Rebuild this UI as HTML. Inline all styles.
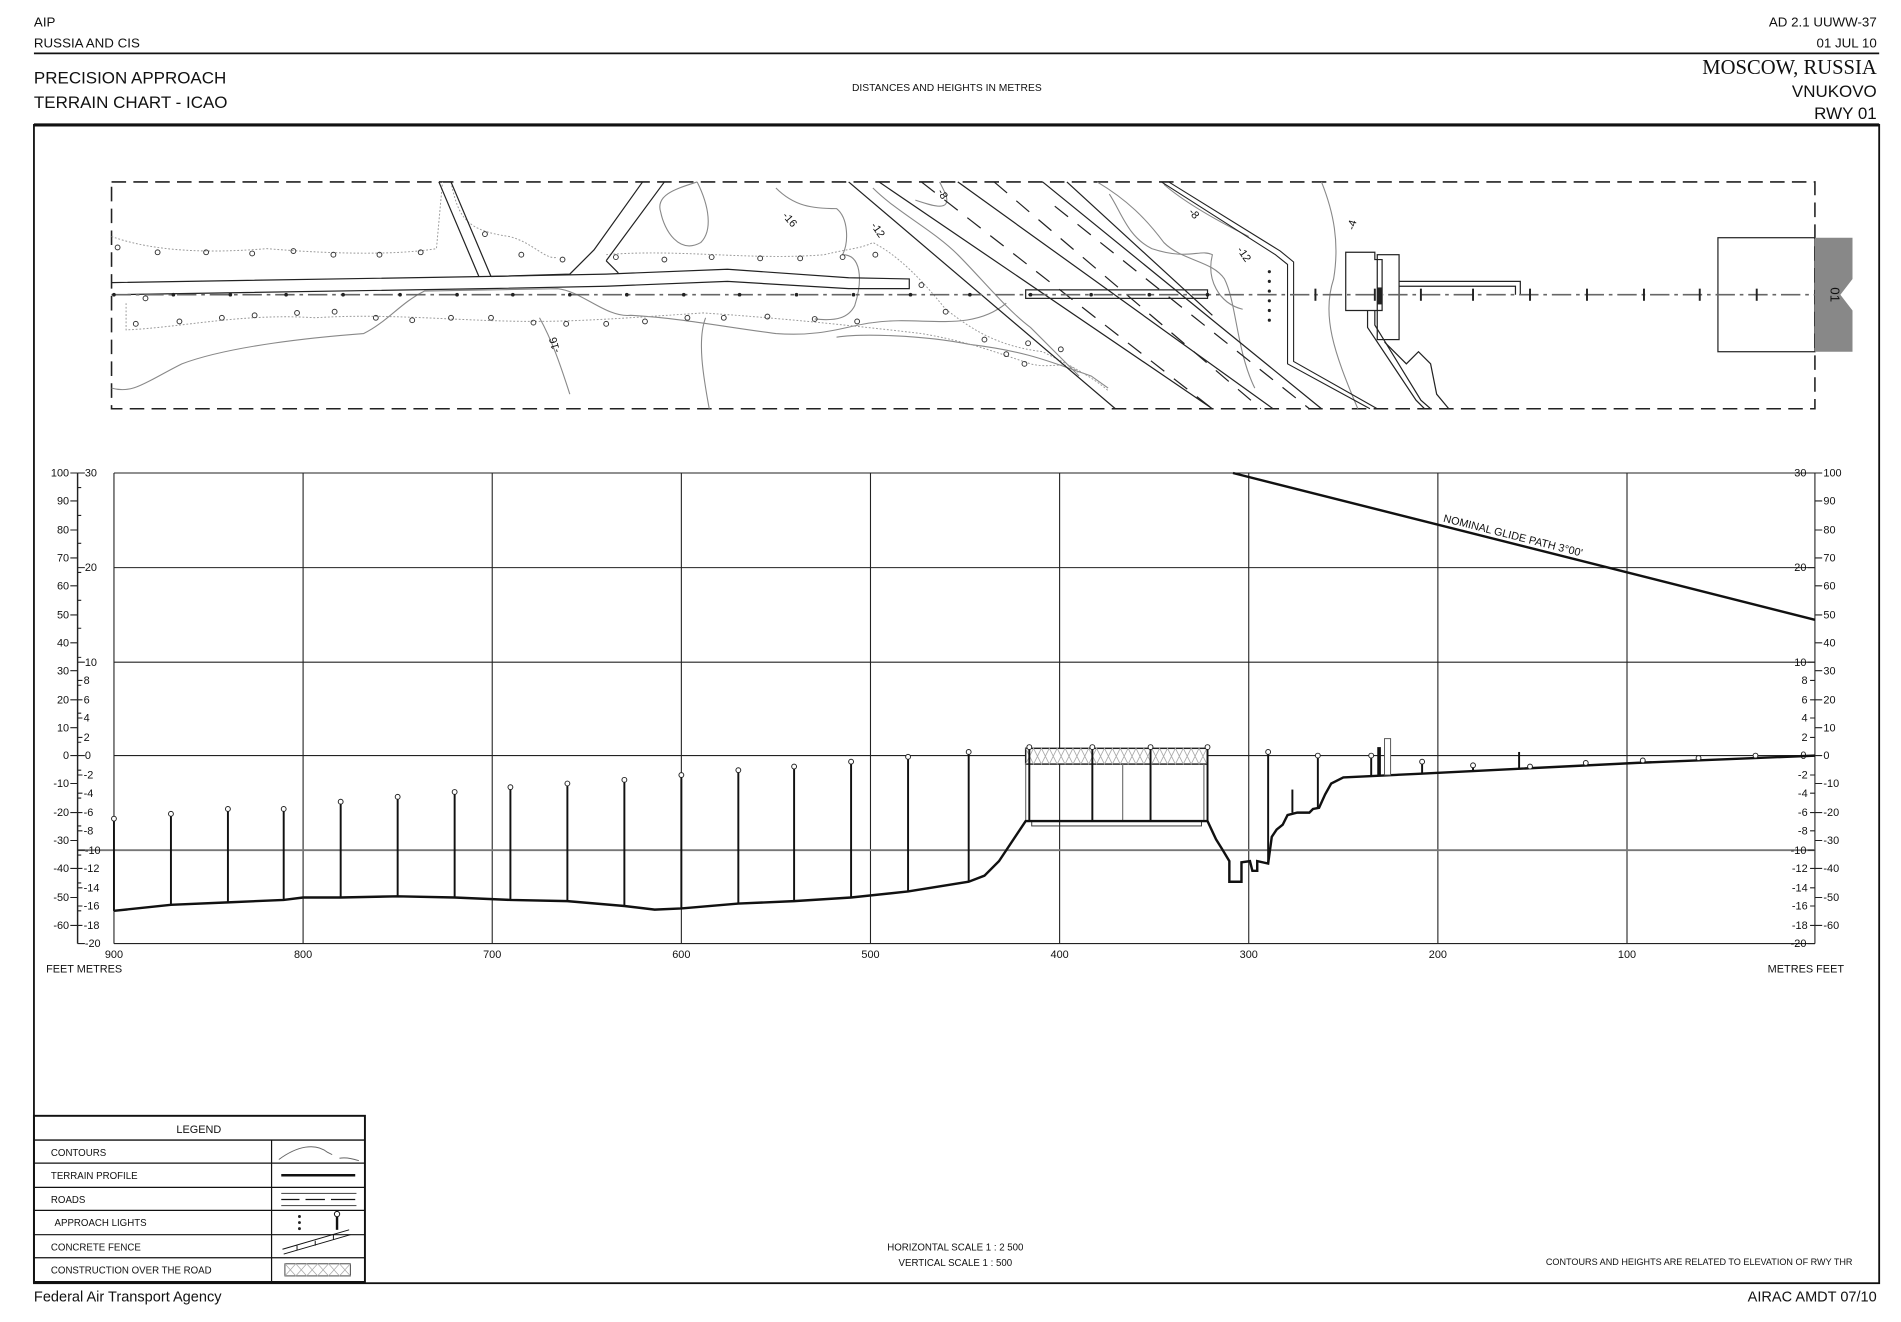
<!DOCTYPE html>
<html><head><meta charset="utf-8"><style>
html,body{margin:0;padding:0;background:#fff}
svg{display:block}
text{font-family:"Liberation Sans",sans-serif;fill:#111}
.n{font-family:"Liberation Sans Narrow","Liberation Sans",sans-serif}
</style></head><body>
<svg width="1901" height="1322" viewBox="0 0 1568 1090" preserveAspectRatio="none" xmlns="http://www.w3.org/2000/svg">
<rect width="1568" height="1090" fill="#fff"/>
<!-- header -->
<text x="28" y="22" font-size="11">AIP</text>
<text x="28" y="39" font-size="11">RUSSIA AND CIS</text>
<text x="1548" y="22" font-size="11" text-anchor="end">AD 2.1 UUWW-37</text>
<text x="1548" y="39" font-size="11" text-anchor="end">01 JUL 10</text>
<line x1="28" y1="44" x2="1550" y2="44" stroke="#111" stroke-width="1.5"/>
<text x="28" y="69" font-size="14">PRECISION APPROACH</text>
<text x="28" y="89" font-size="14">TERRAIN CHART - ICAO</text>
<text x="781" y="75" font-size="8.5" text-anchor="middle">DISTANCES AND HEIGHTS IN METRES</text>
<text x="1548" y="61" font-size="17" text-anchor="end" style="font-family:'Liberation Serif',serif">MOSCOW, RUSSIA</text>
<text x="1548" y="80" font-size="14" text-anchor="end">VNUKOVO</text>
<text x="1548" y="98" font-size="14" text-anchor="end">RWY 01</text>
<!-- frame -->
<rect x="28" y="103" width="1522" height="955" fill="none" stroke="#111" stroke-width="1.5"/>
<line x1="28" y1="103" x2="1550" y2="103" stroke="#111" stroke-width="2.5"/>
<text x="28" y="1073" font-size="12">Federal Air Transport Agency</text>
<text x="1548" y="1073" font-size="12" text-anchor="end">AIRAC AMDT 07/10</text>

<!-- plan view -->
<rect x="92" y="150" width="1405" height="187" fill="none" stroke="#222" stroke-width="1.3" stroke-dasharray="12,6"/>
<g fill="none" stroke="#888" stroke-width="0.9">
<path d="M92,320 C110,325 120,315 150,300 C190,285 260,278 300,275 C320,265 330,250 350,240 L460,238 C480,240 500,262 520,260 C560,262 600,270 640,275 C680,278 700,268 720,266 C760,260 800,275 830,250"/>
<path d="M445,262 C455,280 462,300 470,325"/>
<path d="M575,150 C585,170 588,190 578,200 C560,210 548,190 545,175 C540,160 560,155 575,150"/>
<path d="M582,262 C575,280 580,310 585,337"/>
<path d="M640,155 C655,170 670,172 690,172 C700,180 700,200 695,210 C710,210 712,230 705,252 C700,262 690,265 672,263"/>
<path d="M690,278 C710,275 760,276 800,284 C850,290 870,300 900,310 L914,320"/>
<path d="M720,155 C740,175 770,190 790,210 C810,230 830,255 850,270 C870,290 880,300 890,310"/>
<path d="M755,165 C770,170 785,175 780,160 L775,150"/>
<path d="M905,150 C930,165 945,180 960,200 C975,215 1000,215 1010,230 C1020,250 1020,290 1035,320"/>
<path d="M915,160 C925,175 930,195 950,205 C980,215 990,205 1000,210 C995,230 1005,250 1025,255"/>
<path d="M960,152 C975,165 1000,180 1030,195"/>
<path d="M1090,150 C1100,175 1105,200 1100,230 C1090,260 1100,290 1120,337"/>
</g>
<g fill="none" stroke="#999" stroke-width="0.8" stroke-dasharray="1.5,1.5">
<path d="M92,195 C120,205 160,210 220,205 C280,210 330,210 360,205 L365,150"/>
<path d="M372,150 C378,180 385,190 420,195 C440,200 450,215 460,212"/>
<path d="M500,210 C560,205 620,215 680,210 C700,205 710,205 720,200 C740,210 760,230 780,255 C800,270 820,285 860,290 C880,300 900,310 914,322"/>
<path d="M104,250 L104,272 C150,270 200,258 260,262 C320,258 380,265 440,265 C480,265 520,262 580,258 C640,262 700,268 760,275 C800,282 820,290 850,300 C870,305 880,295 890,308"/>
</g>
<g font-size="9" fill="#333">
<text x="645" y="178" transform="rotate(50 645 178)">-16</text>
<text x="718" y="186" transform="rotate(55 718 186)">-12</text>
<text x="773" y="158" transform="rotate(60 773 158)">-8</text>
<text x="980" y="175" transform="rotate(50 980 175)">-8</text>
<text x="1020" y="206" transform="rotate(55 1020 206)">-12</text>
<text x="1117" y="190" transform="rotate(-75 1117 190)">-4</text>
<text x="462" y="290" transform="rotate(-105 462 290)">-16</text>
</g>
<g fill="none" stroke="#222" stroke-width="1">
<path d="M92,233 L400,228 L500,226 L600,222 L700,229 L750,230 L750,238 L700,238 L600,232 L500,236 L400,238 L92,243"/>
<line x1="362" y1="150" x2="395" y2="228"/><line x1="372" y1="150" x2="405" y2="228"/>
<path d="M405,228 L470,226 L490,206 L530,150"/><path d="M500,215 L510,225 M500,215 L548,150"/>
<line x1="700" y1="150" x2="920" y2="337"/><line x1="725" y1="150" x2="1000" y2="337"/>
<line x1="790" y1="150" x2="1050" y2="337"/><line x1="860" y1="150" x2="1090" y2="337"/>
<line x1="880" y1="150" x2="1000" y2="260"/>
</g>
<g fill="none" stroke="#222" stroke-width="1" stroke-dasharray="14,10">
<line x1="760" y1="150" x2="1000" y2="337"/><line x1="820" y1="150" x2="1040" y2="337"/>
<line x1="870" y1="170" x2="1080" y2="337"/>
</g>
<g fill="none" stroke="#222" stroke-width="0.9">
<path d="M958,150 L1052,210 L1062,218 L1062,300 L1130,337"/>
<path d="M964,150 L1056,207 L1067,216 L1067,298 L1136,337"/>
</g>
<rect x="846" y="239" width="150" height="7" fill="none" stroke="#222" stroke-width="1"/>
<g fill="none" stroke="#222" stroke-width="1">
<path d="M1110,215 L1110,256 L1140,256 L1140,214 L1134,214 L1134,208 L1110,208 Z"/>
<rect x="1136" y="210" width="18" height="70"/>
<path d="M1154,232 L1254,232 L1254,243 M1154,236 L1250,236 L1250,243"/>
<path d="M1128,256 L1128,270 L1168,330 L1175,337 M1134,256 L1134,268 L1172,330 L1180,337"/>
<path d="M1142,282 L1160,300 L1170,290 L1180,300 L1185,325 L1195,337"/>
</g>
<rect x="1417" y="196" width="80" height="94" fill="none" stroke="#222" stroke-width="1"/>
<path d="M1497,196 L1528,196 L1528,230 L1518,243 L1528,256 L1528,290 L1497,290 Z" fill="#888"/>
<text x="1510" y="243" font-size="11" transform="rotate(90 1510 243)" text-anchor="middle">01</text>
<line x1="92" y1="243" x2="1497" y2="243" stroke="#666" stroke-width="1.3" stroke-dasharray="16,4,3,4"/>
<g fill="#222">
<circle cx="94" cy="243" r="1.5"/><circle cx="143" cy="243" r="1.5"/><circle cx="190" cy="243" r="1.5"/><circle cx="236" cy="243" r="1.5"/><circle cx="283" cy="243" r="1.5"/><circle cx="330" cy="243" r="1.5"/><circle cx="377" cy="243" r="1.5"/><circle cx="423" cy="243" r="1.5"/><circle cx="470" cy="243" r="1.5"/><circle cx="517" cy="243" r="1.5"/><circle cx="564" cy="243" r="1.5"/><circle cx="610" cy="243" r="1.5"/><circle cx="657" cy="243" r="1.5"/><circle cx="704" cy="243" r="1.5"/><circle cx="751" cy="243" r="1.5"/><circle cx="800" cy="243" r="1.5"/><circle cx="850" cy="243" r="1.5"/><circle cx="900" cy="243" r="1.5"/><circle cx="948" cy="243" r="1.5"/><circle cx="996" cy="243" r="1.5"/>
<circle cx="1047" cy="224" r="1.3"/><circle cx="1047" cy="232" r="1.3"/><circle cx="1047" cy="240" r="1.3"/><circle cx="1047" cy="248" r="1.3"/><circle cx="1047" cy="256" r="1.3"/><circle cx="1047" cy="264" r="1.3"/>
</g>
<g stroke="#222" stroke-width="1.6">
<line x1="1085" y1="238" x2="1085" y2="248"/><line x1="1134" y1="238" x2="1134" y2="248"/><line x1="1172" y1="238" x2="1172" y2="248"/><line x1="1215" y1="238" x2="1215" y2="248"/><line x1="1262" y1="238" x2="1262" y2="248"/><line x1="1309" y1="238" x2="1309" y2="248"/><line x1="1356" y1="238" x2="1356" y2="248"/><line x1="1402" y1="238" x2="1402" y2="248"/><line x1="1449" y1="238" x2="1449" y2="248"/>
</g>
<rect x="1136" y="237" width="4" height="14" fill="#222"/>
<g fill="none" stroke="#333" stroke-width="0.8">
<circle cx="97" cy="204" r="2"/><circle cx="130" cy="208" r="2"/><circle cx="170" cy="208" r="2"/><circle cx="208" cy="209" r="2"/><circle cx="242" cy="207" r="2"/><circle cx="275" cy="210" r="2"/><circle cx="313" cy="210" r="2"/><circle cx="347" cy="208" r="2"/><circle cx="400" cy="193" r="2"/><circle cx="430" cy="210" r="2"/><circle cx="464" cy="214" r="2"/><circle cx="508" cy="212" r="2"/><circle cx="548" cy="214" r="2"/><circle cx="587" cy="212" r="2"/><circle cx="627" cy="213" r="2"/><circle cx="660" cy="213" r="2"/><circle cx="695" cy="212" r="2"/><circle cx="722" cy="210" r="2"/><circle cx="760" cy="235" r="2"/>
<circle cx="120" cy="246" r="2"/><circle cx="112" cy="267" r="2"/><circle cx="148" cy="265" r="2"/><circle cx="183" cy="262" r="2"/><circle cx="210" cy="260" r="2"/><circle cx="245" cy="258" r="2"/><circle cx="276" cy="257" r="2"/><circle cx="310" cy="262" r="2"/><circle cx="340" cy="264" r="2"/><circle cx="372" cy="262" r="2"/><circle cx="405" cy="262" r="2"/><circle cx="440" cy="266" r="2"/><circle cx="467" cy="267" r="2"/><circle cx="500" cy="267" r="2"/><circle cx="532" cy="265" r="2"/><circle cx="567" cy="262" r="2"/><circle cx="597" cy="262" r="2"/><circle cx="633" cy="261" r="2"/><circle cx="672" cy="263" r="2"/><circle cx="707" cy="265" r="2"/><circle cx="780" cy="257" r="2"/><circle cx="812" cy="280" r="2"/><circle cx="848" cy="283" r="2"/><circle cx="875" cy="288" r="2"/><circle cx="830" cy="292" r="2"/><circle cx="845" cy="300" r="2"/>
</g>

<!-- profile grid -->
<g stroke="#222" stroke-width="0.9">
<line x1="94" y1="390" x2="1497" y2="390"/><line x1="94" y1="468" x2="1497" y2="468"/><line x1="94" y1="546" x2="1497" y2="546"/><line x1="94" y1="623" x2="1497" y2="623"/><line x1="94" y1="778" x2="1497" y2="778"/>
<line x1="94" y1="390" x2="94" y2="778"/><line x1="250" y1="390" x2="250" y2="778"/><line x1="406" y1="390" x2="406" y2="778"/><line x1="562" y1="390" x2="562" y2="778"/><line x1="718" y1="390" x2="718" y2="778"/><line x1="874" y1="390" x2="874" y2="778"/><line x1="1030" y1="390" x2="1030" y2="778"/><line x1="1186" y1="390" x2="1186" y2="778"/><line x1="1342" y1="390" x2="1342" y2="778"/><line x1="1497" y1="390" x2="1497" y2="778"/>
</g>
<line x1="64" y1="701" x2="1497" y2="701" stroke="#777" stroke-width="1.5"/>
<g stroke="#222" stroke-width="1.2"><line x1="64" y1="390" x2="64" y2="778"/></g>
<g stroke="#222" stroke-width="0.9">
<path d="M58,390h6M58,413h6M58,437h6M58,460h6M58,483h6M58,507h6M58,530h6M58,553h6M58,577h6M58,600h6M58,623h6M58,646h6M58,670h6M58,693h6M58,716h6M58,740h6M58,763h6"/>
<path d="M64,390h6M64,468h6M64,546h6M64,561h4M64,577h4M64,592h4M64,608h4M64,623h6M64,639h4M64,654h4M64,670h4M64,685h4M64,701h6M64,716h4M64,732h4M64,747h4M64,763h4M64,778h6"/>
<path d="M64,402h3M64,425h3M64,448h3M64,472h3M64,495h3M64,518h3M64,542h3M64,565h3M64,588h3M64,612h3M64,635h3M64,658h3M64,681h3M64,705h3M64,728h3M64,751h3"/>
<path d="M1503,390h-6M1503,413h-6M1503,437h-6M1503,460h-6M1503,483h-6M1503,507h-6M1503,530h-6M1503,553h-6M1503,577h-6M1503,600h-6M1503,623h-6M1503,646h-6M1503,670h-6M1503,693h-6M1503,716h-6M1503,740h-6M1503,763h-6"/>
<path d="M1491,390h6M1491,468h6M1491,546h6M1493,561h4M1493,577h4M1493,592h4M1493,608h4M1491,623h6M1493,639h4M1493,654h4M1493,670h4M1493,685h4M1491,701h6M1493,716h4M1493,732h4M1493,747h4M1493,763h4M1491,778h6"/>
</g>
<g font-size="9" class="n">
<g text-anchor="end">
<text x="57" y="393">100</text><text x="57" y="416">90</text><text x="57" y="440">80</text><text x="57" y="463">70</text><text x="57" y="486">60</text><text x="57" y="510">50</text><text x="57" y="533">40</text><text x="57" y="556">30</text><text x="57" y="580">20</text><text x="57" y="603">10</text><text x="57" y="626">0</text><text x="57" y="649">-10</text><text x="57" y="673">-20</text><text x="57" y="696">-30</text><text x="57" y="719">-40</text><text x="57" y="743">-50</text><text x="57" y="766">-60</text>
<text x="1490" y="393">30</text><text x="1490" y="471">20</text><text x="1490" y="549">10</text><text x="1491" y="564">8</text><text x="1491" y="580">6</text><text x="1491" y="595">4</text><text x="1491" y="611">2</text><text x="1490" y="626">0</text><text x="1491" y="642">-2</text><text x="1491" y="657">-4</text><text x="1491" y="673">-6</text><text x="1491" y="688">-8</text><text x="1490" y="704">-10</text><text x="1491" y="719">-12</text><text x="1491" y="735">-14</text><text x="1491" y="750">-16</text><text x="1491" y="766">-18</text><text x="1490" y="781">-20</text>
</g>
<text x="70" y="393">30</text><text x="70" y="471">20</text><text x="70" y="549">10</text><text x="69" y="564">8</text><text x="69" y="580">6</text><text x="69" y="595">4</text><text x="69" y="611">2</text><text x="70" y="626">0</text><text x="69" y="642">-2</text><text x="69" y="657">-4</text><text x="69" y="673">-6</text><text x="69" y="688">-8</text><text x="70" y="704">-10</text><text x="69" y="719">-12</text><text x="69" y="735">-14</text><text x="69" y="750">-16</text><text x="69" y="766">-18</text><text x="70" y="781">-20</text>
<text x="1504" y="393">100</text><text x="1504" y="416">90</text><text x="1504" y="440">80</text><text x="1504" y="463">70</text><text x="1504" y="486">60</text><text x="1504" y="510">50</text><text x="1504" y="533">40</text><text x="1504" y="556">30</text><text x="1504" y="580">20</text><text x="1504" y="603">10</text><text x="1504" y="626">0</text><text x="1504" y="649">-10</text><text x="1504" y="673">-20</text><text x="1504" y="696">-30</text><text x="1504" y="719">-40</text><text x="1504" y="743">-50</text><text x="1504" y="766">-60</text>
<g text-anchor="middle">
<text x="94" y="790">900</text><text x="250" y="790">800</text><text x="406" y="790">700</text><text x="562" y="790">600</text><text x="718" y="790">500</text><text x="874" y="790">400</text><text x="1030" y="790">300</text><text x="1186" y="790">200</text><text x="1342" y="790">100</text>
</g>
<text x="38" y="802">FEET  METRES</text>
<text x="1521" y="802" text-anchor="end">METRES  FEET</text>
</g>
<line x1="1017" y1="390" x2="1497" y2="511" stroke="#111" stroke-width="2"/>
<text x="1190" y="430" font-size="9" transform="rotate(14.2 1190 430)" class="n">NOMINAL  GLIDE  PATH  3°00'</text>
<rect x="846" y="617" width="150" height="13" fill="#fff" stroke="#222" stroke-width="1.2"/>
<path d="M846,617 l6.5,13 l6.5,-13 l6.5,13 l6.5,-13 l6.5,13 l6.5,-13 l6.5,13 l6.5,-13 l6.5,13 l6.5,-13 l6.5,13 l6.5,-13 l6.5,13 l6.5,-13 l6.5,13 l6.5,-13 l6.5,13 l6.5,-13 l6.5,13 l6.5,-13 l6.5,13 l6.5,-13 l6.5,13 M846,630 l6.5,-13 l6.5,13 l6.5,-13 l6.5,13 l6.5,-13 l6.5,13 l6.5,-13 l6.5,13 l6.5,-13 l6.5,13 l6.5,-13 l6.5,13 l6.5,-13 l6.5,13 l6.5,-13 l6.5,13 l6.5,-13 l6.5,13 l6.5,-13 l6.5,13 l6.5,-13 l6.5,13 l6.5,-13" fill="none" stroke="#aaa" stroke-width="0.7"/>
<g stroke="#777" stroke-width="1"><line x1="846" y1="630" x2="846" y2="677"/><line x1="926" y1="630" x2="926" y2="677"/><line x1="993" y1="630" x2="993" y2="677"/></g>
<rect x="851" y="677" width="140" height="4" fill="none" stroke="#333" stroke-width="0.8"/>
<path d="M94,751 L141,746 L188,744 L234,742 L250,740 L281,740 L328,739 L375,740 L421,742 L468,743 L515,747 L540,750 L562,749 L609,745 L655,743 L702,740 L749,735 L799,727 L812,722 L824,710 L846,677 L996,677 L1003,692 L1008,700 L1014,710 L1014,727 L1024,727 L1024,711 L1031,710 L1033,718 L1037,718 L1037,710 L1046,712 L1049,690 L1053,684 L1058,680 L1062,672 L1070,670 L1080,670 L1083,667 L1088,666 L1093,655 L1098,646 L1108,641 L1170,638 L1250,634 L1350,629 L1497,623" fill="none" stroke="#111" stroke-width="2"/>
<g stroke="#111" stroke-width="1.6">
<line x1="94" y1="675" x2="94" y2="751"/><line x1="141" y1="671" x2="141" y2="746"/><line x1="188" y1="667" x2="188" y2="744"/><line x1="234" y1="667" x2="234" y2="742"/><line x1="281" y1="661" x2="281" y2="740"/><line x1="328" y1="657" x2="328" y2="739"/><line x1="375" y1="653" x2="375" y2="740"/><line x1="421" y1="649" x2="421" y2="742"/><line x1="468" y1="646" x2="468" y2="743"/><line x1="515" y1="643" x2="515" y2="747"/><line x1="562" y1="639" x2="562" y2="749"/><line x1="609" y1="635" x2="609" y2="745"/><line x1="655" y1="632" x2="655" y2="743"/><line x1="702" y1="628" x2="702" y2="740"/><line x1="749" y1="624" x2="749" y2="735"/><line x1="799" y1="620" x2="799" y2="727"/>
<line x1="849" y1="616" x2="849" y2="677"/><line x1="901" y1="616" x2="901" y2="677"/><line x1="949" y1="616" x2="949" y2="677"/><line x1="996" y1="616" x2="996" y2="677"/>
<line x1="1046" y1="620" x2="1046" y2="712"/><line x1="1087" y1="623" x2="1087" y2="666"/><line x1="1066" y1="651" x2="1066" y2="670"/>
<line x1="1131" y1="625" x2="1131" y2="639"/><line x1="1173" y1="628" x2="1173" y2="638"/><line x1="1215" y1="631" x2="1215" y2="636"/><line x1="1253" y1="620" x2="1253" y2="634"/>
</g>
<rect x="1136" y="616" width="3" height="23" fill="#111"/>
<rect x="1142" y="609" width="5" height="30" fill="#fff" stroke="#555" stroke-width="0.8"/>
<g fill="#fff" stroke="#222" stroke-width="0.8">
<circle cx="94" cy="675" r="2"/><circle cx="141" cy="671" r="2"/><circle cx="188" cy="667" r="2"/><circle cx="234" cy="667" r="2"/><circle cx="281" cy="661" r="2"/><circle cx="328" cy="657" r="2"/><circle cx="375" cy="653" r="2"/><circle cx="421" cy="649" r="2"/><circle cx="468" cy="646" r="2"/><circle cx="515" cy="643" r="2"/><circle cx="562" cy="639" r="2"/><circle cx="609" cy="635" r="2"/><circle cx="655" cy="632" r="2"/><circle cx="702" cy="628" r="2"/><circle cx="749" cy="624" r="2"/><circle cx="799" cy="620" r="2"/><circle cx="849" cy="616" r="2"/><circle cx="901" cy="616" r="2"/><circle cx="949" cy="616" r="2"/><circle cx="996" cy="616" r="2"/><circle cx="1046" cy="620" r="2"/><circle cx="1087" cy="623" r="2"/><circle cx="1131" cy="623" r="2"/><circle cx="1173" cy="628" r="2"/><circle cx="1215" cy="631" r="2"/><circle cx="1262" cy="632" r="2"/><circle cx="1308" cy="629" r="2"/><circle cx="1355" cy="627" r="2"/><circle cx="1401" cy="625" r="2"/><circle cx="1448" cy="623" r="2"/>
</g>

<!-- legend -->
<g stroke="#111" fill="none">
<rect x="28" y="920" width="273" height="137" stroke-width="1.6"/>
<line x1="28" y1="940" x2="301" y2="940" stroke-width="1.2"/>
<line x1="28" y1="959" x2="301" y2="959"/><line x1="28" y1="979" x2="301" y2="979"/><line x1="28" y1="998" x2="301" y2="998"/><line x1="28" y1="1018" x2="301" y2="1018"/><line x1="28" y1="1037" x2="301" y2="1037"/>
<line x1="224" y1="940" x2="224" y2="1057"/>
<path d="M230,956 C245,945 260,942 270,950 L274,952 M280,955 C285,954 290,955 296,957" stroke="#666" stroke-width="0.8"/>
<line x1="232" y1="969" x2="293" y2="969" stroke-width="2"/>
<line x1="232" y1="984" x2="294" y2="984" stroke="#555"/><line x1="232" y1="994" x2="294" y2="994" stroke="#555"/>
<path d="M232,989h15M252,989h16M273,989h20" stroke-width="1"/>
<line x1="278" y1="1003" x2="278" y2="1014" stroke-width="2"/>
<path d="M233,1030 L288,1014 M234,1034 L289,1018 M245,1027v4 M260,1023v4 M275,1018v4" stroke-width="0.8"/>
<rect x="235" y="1042" width="54" height="10" stroke="#444" stroke-width="0.8"/>
<path d="M235,1042 l9,10 l9,-10 l9,10 l9,-10 l9,10 l9,-10 M235,1052 l9,-10 l9,10 l9,-10 l9,10 l9,-10 l9,10" stroke="#aaa" stroke-width="0.6"/>
</g>
<g fill="#222"><circle cx="247" cy="1003" r="1.2"/><circle cx="247" cy="1008" r="1.2"/><circle cx="247" cy="1013" r="1.2"/></g>
<circle cx="278" cy="1001" r="2.2" fill="#fff" stroke="#111" stroke-width="0.8"/>
<g font-size="8">
<text x="164" y="934" text-anchor="middle" font-size="9">LEGEND</text>
<text x="42" y="953">CONTOURS</text><text x="42" y="972">TERRAIN PROFILE</text><text x="42" y="992">ROADS</text><text x="45" y="1011">APPROACH LIGHTS</text><text x="42" y="1031">CONCRETE FENCE</text><text x="42" y="1050">CONSTRUCTION OVER THE ROAD</text>
<text x="788" y="1031" text-anchor="middle">HORIZONTAL SCALE 1 : 2 500</text>
<text x="788" y="1044" text-anchor="middle">VERTICAL SCALE 1 : 500</text>
<text x="1528" y="1043" text-anchor="end" font-size="7.5">CONTOURS AND HEIGHTS ARE RELATED TO ELEVATION OF RWY THR</text>
</g>
</svg>
</body></html>
